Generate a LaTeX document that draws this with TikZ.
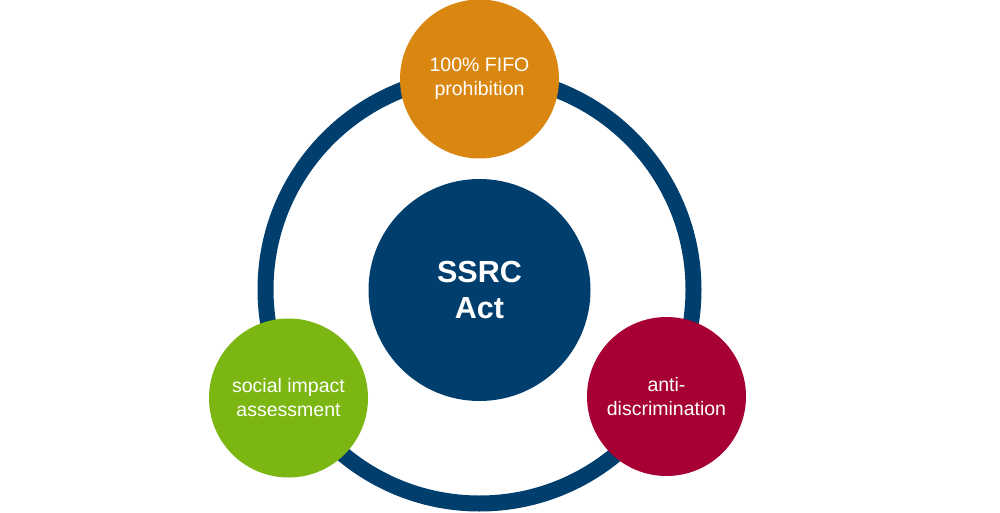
\documentclass[tikz,border=0pt]{standalone}
\usepackage{fontspec}
\setmainfont{Liberation Sans}
\definecolor{ringblue}{RGB}{0,62,110}
\definecolor{orangec}{RGB}{218,135,18}
\definecolor{greenc}{RGB}{123,182,18}
\definecolor{redc}{RGB}{166,0,52}
\tikzset{
  bubble/.style={circle, inner sep=0pt, minimum size=159pt, text=white, align=center,
    font=\fontsize{19.5}{24}\selectfont},
  hub/.style={circle, inner sep=0pt, minimum size=222pt, fill=ringblue, text=white, align=center,
    font=\bfseries\fontsize{30.5}{36.5}\selectfont},
  ringstyle/.style={circle, inner sep=0pt, minimum size=428pt, draw=ringblue, line width=16pt}
}
\begin{document}
\begin{tikzpicture}[x=1pt,y=-1pt]
\useasboundingbox (0,0) rectangle (1000,513);
\node[ringstyle] (ring) at (479.5,289.5) {};
\node[hub] (hubnode) at (479.5,290) {SSRC\\Act};
\node[bubble, fill=orangec] (fifo) at (479.5,79) {100\% FIFO\\prohibition};
\node[bubble, fill=greenc] (sia) at (288.5,398) {social impact\\assessment};
\node[bubble, fill=redc] (anti) at (666.5,396.5) {anti-\\discrimination};
\end{tikzpicture}
\end{document}
